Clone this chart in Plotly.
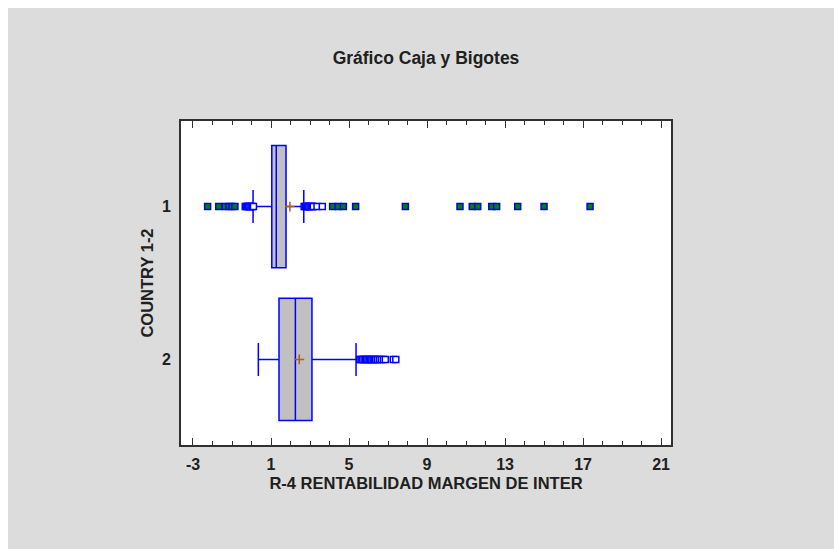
import plotly.graph_objects as go

# ---- data ----
groups = [1, 2]
q1 = [1.04, 1.41]
median = [1.27, 2.25]
q3 = [1.77, 3.10]
lower_whisker = [0.08, 0.35]
upper_whisker = [2.68, 5.36]
means = [1.97, 2.45]

near_out_1 = [-0.32, -0.26, -0.20, -0.14, -0.08, -0.02, 0.04, 0.10, 2.70, 2.76, 2.82, 2.88, 2.94, 3.00,
              3.06, 3.12, 3.17, 3.36, 3.63]
far_out_1 = [-2.25, -1.68, -1.35, -1.15, -1.00, -0.85, 4.16, 4.45, 4.71, 5.34, 7.89, 10.69, 11.32, 11.60,
             12.32, 12.57, 13.65, 15.00, 17.36]
near_out_2 = [5.55, 5.62, 5.68, 5.77, 5.84, 5.90, 5.97, 6.04, 6.10, 6.17, 6.24, 6.30, 6.37, 6.45, 6.55,
              6.65, 6.76, 6.86, 7.27, 7.40]
far_out_2 = []

x_ticks = [-3, 1, 5, 9, 13, 17, 21]

BLUE = "#0000FF"
W, H = 834, 549
L, R, T, B = 181, 163, 121, 104
FONT = "Liberation Sans, Arial, sans-serif"

fig = go.Figure()

for i, g in enumerate(groups):
    fig.add_trace(go.Box(
        y=[g], q1=[q1[i]], median=[median[i]], q3=[q3[i]],
        lowerfence=[lower_whisker[i]], upperfence=[upper_whisker[i]],
        orientation="h", width=0.8, whiskerwidth=0.27,
        fillcolor="#C0C0C0", line=dict(color=BLUE, width=1.5),
        boxpoints=False, showlegend=False, hoverinfo="skip",
    ))

near_sets = [near_out_1, near_out_2]
far_sets = [far_out_1, far_out_2]
for i, g in enumerate(groups):
    if near_sets[i]:
        fig.add_trace(go.Scatter(
            x=near_sets[i], y=[g] * len(near_sets[i]), mode="markers",
            marker=dict(symbol="square", size=6, color="white", line=dict(color=BLUE, width=1.5)),
            showlegend=False, hoverinfo="skip"))
    if far_sets[i]:
        fig.add_trace(go.Scatter(
            x=far_sets[i], y=[g] * len(far_sets[i]), mode="markers",
            marker=dict(symbol="square", size=6, color="#008000", line=dict(color=BLUE, width=1.5)),
            showlegend=False, hoverinfo="skip"))

fig.add_trace(go.Scatter(
    x=means, y=groups, mode="markers",
    marker=dict(symbol="cross-thin", size=7, line=dict(color="#B05A20", width=1.5)),
    showlegend=False, hoverinfo="skip"))

# white strip on top/left edges of the picture
PW, PH = W - L - R, H - T - B
fig.add_shape(type="rect", xref="paper", yref="paper",
              x0=-L / PW - 0.1, x1=(8 - L) / PW,
              y0=-B / PH - 0.1, y1=1 + T / PH + 0.1,
              fillcolor="white", line=dict(width=0), layer="below")
fig.add_shape(type="rect", xref="paper", yref="paper",
              x0=-L / PW - 0.1, x1=1 + R / PH + 0.5,
              y0=1 + (T - 8) / PH, y1=1 + T / PH + 0.1,
              fillcolor="white", line=dict(width=0), layer="below")

fig.update_layout(
    width=W, height=H,
    margin=dict(l=L, r=R, t=T, b=B),
    paper_bgcolor="#DCDCDC", plot_bgcolor="white",
    font=dict(family=FONT, size=13, color="#202020"),
    title=dict(text="<b>Gráfico Caja y Bigotes</b>", x=(L + PW / 2) / W, xanchor="center",
               y=1 - 58 / H, yanchor="middle", font=dict(size=17.5, family=FONT)),
    xaxis=dict(range=[-3.615, 21.51], tickvals=x_ticks, ticktext=[f"<b>{v}</b>" for v in x_ticks],
               tickfont=dict(size=16),
               ticks="inside", ticklen=7, tickwidth=1.2, tickcolor="#303030",
               minor=dict(dtick=1, tick0=-3, ticks="inside", ticklen=4, tickcolor="#303030"),
               showgrid=False, zeroline=False, mirror="ticks", showline=True,
               linecolor="#303030", linewidth=2, ticklabelstandoff=4,
               title=dict(text="<b>R-4 RENTABILIDAD MARGEN DE INTER</b>", standoff=5,
                          font=dict(size=16.5))),
    yaxis=dict(range=[2.56, 0.44], tickvals=groups, ticktext=[f"<b>{g}</b>" for g in groups],
               tickfont=dict(size=16),
               ticks="", showgrid=False, zeroline=False, showline=True, mirror=True,
               linecolor="#303030", linewidth=2, ticklabelstandoff=5,
               title=dict(text="<b>COUNTRY 1-2</b>", standoff=4,
                          font=dict(size=16.5))),
)

fig.write_html("out.html")
